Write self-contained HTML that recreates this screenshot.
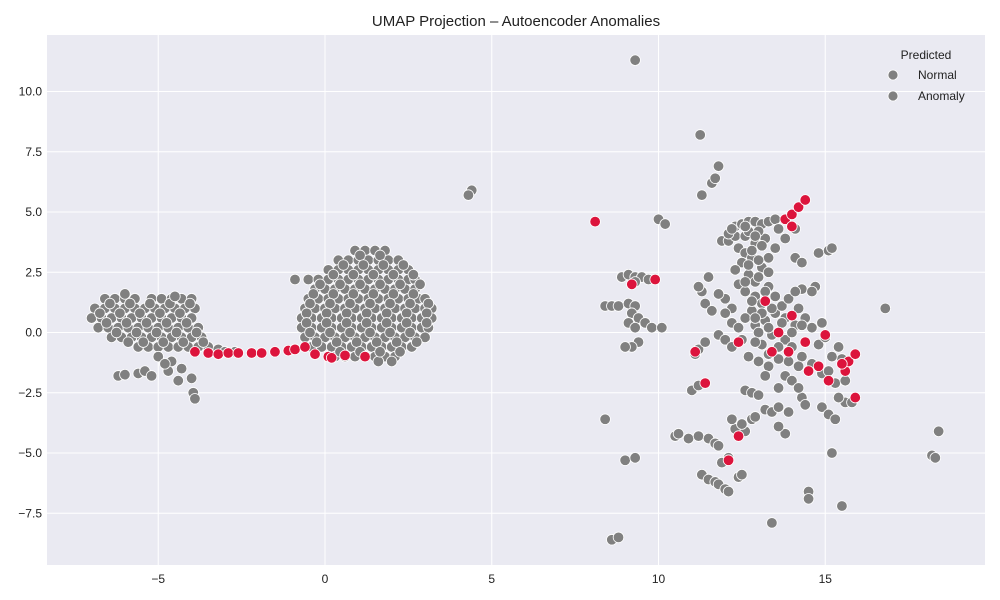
<!DOCTYPE html>
<html><head><meta charset="utf-8"><style>
body{margin:0;background:#fff;}
svg{display:block;font-family:"Liberation Sans",sans-serif;}
</style></head><body>
<svg id="chart" width="1000" height="600">
<rect x="0" y="0" width="1000" height="600" fill="#fff"/>
<text x="516" y="26" text-anchor="middle" font-size="15" fill="#222">UMAP Projection – Autoencoder Anomalies</text>
<rect x="47" y="35" width="938" height="530" fill="#eaeaf2"/>
<g id="grid"></g><g id="ticks"></g><g id="pts"></g>
<g>
<text x="926" y="59" text-anchor="middle" font-size="12" fill="#222">Predicted</text>
<circle cx="893" cy="75" r="5" fill="#808080" stroke="#fff" stroke-width="0.8"/>
<text x="918" y="79" font-size="12" fill="#222">Normal</text>
<circle cx="893" cy="96" r="5" fill="#808080" stroke="#fff" stroke-width="0.8"/>
<text x="918" y="100" font-size="12" fill="#222">Anomaly</text>
</g>
</svg>
<script>
const xTicks=[-5,0,5,10,15];
const yTicks=[-7.5,-5.0,-2.5,0.0,2.5,5.0,7.5,10.0];
const normalPts=[
[-6.6,1.4],[-6.3,1.4],[-6.0,1.4],[-5.7,1.4],[-5.2,1.4],[-4.9,1.4],[-4.6,1.4],[-4.3,1.4],[-4.0,1.4],
[-6.9,1.0],[-6.6,1.0],[-6.3,1.0],[-6.0,1.0],[-5.7,1.0],[-5.4,1.0],[-5.1,1.0],[-4.8,1.0],[-4.5,1.0],[-4.2,1.0],[-3.9,1.0],
[-7.0,0.6],[-6.7,0.6],[-6.4,0.6],[-6.1,0.6],[-5.8,0.6],[-5.5,0.6],[-5.2,0.6],[-4.9,0.6],[-4.6,0.6],[-4.3,0.6],[-4.0,0.6],
[-6.8,0.2],[-6.5,0.2],[-6.2,0.2],[-5.9,0.2],[-5.6,0.2],[-5.3,0.2],[-5.0,0.2],[-4.7,0.2],[-4.4,0.2],[-4.1,0.2],[-3.8,0.2],
[-6.4,-0.2],[-6.1,-0.2],[-5.8,-0.2],[-5.5,-0.2],[-5.2,-0.2],[-4.9,-0.2],[-4.6,-0.2],[-4.3,-0.2],[-4.0,-0.2],[-3.7,-0.2],
[-5.6,-0.6],[-5.3,-0.6],[-5.0,-0.6],[-4.7,-0.6],[-4.4,-0.6],[-4.1,-0.6],[-3.8,-0.6],[-3.5,-0.6],[-3.2,-0.7],
[-6.45,1.2],[-5.85,1.2],[-5.25,1.2],[-4.65,1.2],[-4.05,1.2],[-6.75,0.8],[-6.15,0.8],[-5.55,0.8],[-4.95,0.8],[-4.35,0.8],
[-6.55,0.4],[-5.95,0.4],[-5.35,0.4],[-4.75,0.4],[-4.15,0.4],[-6.25,0.0],[-5.65,0.0],[-5.05,0.0],[-4.45,0.0],[-3.85,0.0],
[-5.45,-0.4],[-4.85,-0.4],[-4.25,-0.4],[-3.65,-0.4],
[-3.0,-0.8],[-2.7,-0.8],
[-5,-1.0],[-4.6,-1.2],[-4.3,-1.5],[-4.7,-1.6],[-4.4,-2.0],[-4.0,-1.9],[-3.95,-2.5],[-3.9,-2.75],[-6.2,-1.8],[-6.0,-1.75],[-5.6,-1.7],[-5.4,-1.6],[-5.2,-1.8],[-4.8,-1.3],[-5.9,-0.4],[-6.0,1.6],[-4.5,1.5],
[0.9,3.4],[1.2,3.4],[1.5,3.4],[1.8,3.4],
[0.4,3.0],[0.7,3.0],[1.0,3.0],[1.3,3.0],[1.6,3.0],[1.9,3.0],[2.2,3.0],
[0.1,2.6],[0.4,2.6],[0.7,2.6],[1.0,2.6],[1.3,2.6],[1.6,2.6],[1.9,2.6],[2.2,2.6],[2.5,2.6],
[-0.9,2.2],[-0.5,2.2],[-0.2,2.2],[0.1,2.2],[0.4,2.2],[0.7,2.2],[1.0,2.2],[1.3,2.2],[1.6,2.2],[1.9,2.2],[2.2,2.2],[2.5,2.2],[2.7,2.2],
[-0.3,1.8],[0,1.8],[0.3,1.8],[0.6,1.8],[0.9,1.8],[1.2,1.8],[1.5,1.8],[1.8,1.8],[2.1,1.8],[2.4,1.8],[2.7,1.8],
[-0.5,1.4],[-0.2,1.4],[0.1,1.4],[0.4,1.4],[0.7,1.4],[1.0,1.4],[1.3,1.4],[1.6,1.4],[1.9,1.4],[2.2,1.4],[2.5,1.4],[2.8,1.4],[3.0,1.4],
[-0.6,1.0],[-0.3,1.0],[0,1.0],[0.3,1.0],[0.6,1.0],[0.9,1.0],[1.2,1.0],[1.5,1.0],[1.8,1.0],[2.1,1.0],[2.4,1.0],[2.7,1.0],[3.0,1.0],[3.2,1.0],
[-0.7,0.6],[-0.4,0.6],[-0.1,0.6],[0.2,0.6],[0.5,0.6],[0.8,0.6],[1.1,0.6],[1.4,0.6],[1.7,0.6],[2.0,0.6],[2.3,0.6],[2.6,0.6],[2.9,0.6],[3.2,0.6],
[-0.7,0.2],[-0.4,0.2],[-0.1,0.2],[0.2,0.2],[0.5,0.2],[0.8,0.2],[1.1,0.2],[1.4,0.2],[1.7,0.2],[2.0,0.2],[2.3,0.2],[2.6,0.2],[2.9,0.2],[3.1,0.2],
[-0.6,-0.2],[-0.3,-0.2],[0,-0.2],[0.3,-0.2],[0.6,-0.2],[0.9,-0.2],[1.2,-0.2],[1.5,-0.2],[1.8,-0.2],[2.1,-0.2],[2.4,-0.2],[2.7,-0.2],[3.0,-0.2],
[-0.4,-0.6],[-0.1,-0.6],[0.2,-0.6],[0.5,-0.6],[0.8,-0.6],[1.1,-0.6],[1.4,-0.6],[1.7,-0.6],[2.0,-0.6],[2.3,-0.6],[2.6,-0.6],
[0.3,-1.0],[0.6,-1.0],[0.9,-1.0],[1.5,-1.0],[1.8,-1.0],[2.1,-1.0],[1.6,-1.2],[2.0,-1.2],
[1.05,3.2],[1.65,3.2],[0.55,2.8],[1.15,2.8],[1.75,2.8],[2.35,2.8],[0.25,2.4],[0.85,2.4],[1.45,2.4],[2.05,2.4],[2.65,2.4],
[-0.15,2.0],[0.45,2.0],[1.05,2.0],[1.65,2.0],[2.25,2.0],[2.85,2.0],[-0.35,1.6],[0.25,1.6],[0.85,1.6],[1.45,1.6],[2.05,1.6],[2.65,1.6],
[-0.45,1.2],[0.15,1.2],[0.75,1.2],[1.35,1.2],[1.95,1.2],[2.55,1.2],[3.1,1.2],[-0.55,0.8],[0.05,0.8],[0.65,0.8],[1.25,0.8],[1.85,0.8],[2.45,0.8],[3.05,0.8],
[-0.55,0.4],[0.05,0.4],[0.65,0.4],[1.25,0.4],[1.85,0.4],[2.45,0.4],[3.05,0.4],[-0.45,0.0],[0.15,0.0],[0.75,0.0],[1.35,0.0],[1.95,0.0],[2.55,0.0],
[-0.25,-0.4],[0.35,-0.4],[0.95,-0.4],[1.55,-0.4],[2.15,-0.4],[2.75,-0.4],[0.45,-0.8],[1.05,-0.8],[1.65,-0.8],[2.25,-0.8],
[9.3,11.3],[11.25,8.2],[11.8,6.9],[11.6,6.2],[11.7,6.4],[11.3,5.7],[10.0,4.7],[10.2,4.5],[4.4,5.9],[4.3,5.7],[8.4,1.1],[8.6,1.1],[8.8,1.1],[9.1,1.2],[9.3,1.1],[8.9,2.3],[9.1,2.4],[9.3,2.3],[9.5,2.3],[9.7,2.2],[9.3,2.1],[9.2,0.8],[9.4,0.6],[9.6,0.4],[9.1,0.4],[9.3,0.2],[9.8,0.2],[10.1,0.2],[9.4,-0.4],[9.2,-0.6],[9.0,-0.6],[11.1,-0.9],[11.2,-0.7],[11.4,-0.4],[11.0,-2.4],[11.2,-2.2],[10.5,-4.3],[10.6,-4.2],[10.9,-4.4],[11.2,-4.3],[11.5,-4.4],[11.7,-4.6],[11.8,-4.7],[12.1,-5.2],[11.9,-5.4],[11.3,-5.9],[11.5,-6.1],[11.7,-6.2],[11.8,-6.3],[12.0,-6.5],[12.1,-6.6],[12.4,-6.0],[12.5,-5.9],[12.3,-4.0],[12.6,-4.1],[12.8,-3.6],[12.9,-3.5],[13.2,-3.2],[13.4,-3.3],[13.6,-3.1],[13.9,-3.3],[13.8,-4.2],[13.6,-3.9],[14.3,-2.7],[14.4,-3.0],[14.9,-3.1],[15.1,-3.4],[15.3,-3.6],[15.6,-2.9],[15.8,-2.9],[15.4,-2.7],[14.5,-6.6],[14.5,-6.9],[15.5,-7.2],[15.2,-5.0],[13.4,-7.9],[8.6,-8.6],[8.8,-8.5],[8.4,-3.6],[9.0,-5.3],[9.3,-5.2],[18.2,-5.1],[18.4,-4.1],[18.3,-5.2],[16.8,1.0],[14.8,3.3],[15.1,3.4],[15.2,3.5],[14.1,3.1],[14.3,2.9],[14.1,4.3],[13.8,3.9],[14.7,1.9],[14.3,1.8],[14.6,1.7],[11.3,1.7],[11.2,1.9],[11.5,2.3],[11.4,1.2],[11.6,0.9],[12.0,1.4],[11.8,1.6],[12.2,1.0],[12.6,-2.4],[12.8,-2.5],[13.0,-2.6],[13.6,-2.3],[13.8,-1.8],[13.3,-1.4],[13.0,-1.2],[12.7,-1.0],[12.5,-0.3],[13.1,-0.5],[13.4,-0.1],[13.8,-0.3],[14.0,-0.6],[14.3,-1.0],[14.6,-1.3],[14.9,-1.7],[15.1,-1.6],[15.3,-2.1],[15.6,-2.0],[15.5,-1.1],[15.2,-1.0],[15.4,-0.6],[14.8,-0.5],[15.0,-0.2],[11.8,-0.1],[12.0,-0.3],[12.2,0.4],[11.9,3.8],[12.1,3.8],[12.3,4.0],[12.1,4.1],[12.3,4.4],[12.5,4.5],[12.7,4.6],[12.9,4.6],[13.1,4.5],[13.3,4.6],[13.5,4.7],[12.4,3.5],[12.6,3.3],[12.8,3.1],[12.5,2.9],[12.3,2.6],[12.7,2.4],[12.9,2.1],[12.4,2.0],[12.6,1.7],[12.9,1.5],[13.1,1.2],[12.8,0.9],[12.6,0.6],[12.4,0.2],[12.9,0.3],[13.2,0.5],[13.5,0.8],[13.7,1.1],[13.9,1.4],[14.1,1.7],[13.3,1.9],[13.1,2.7],[13.3,3.1],[13.5,3.5],[13.2,3.9],[13.0,4.2],[13.6,4.3],[12.6,4.0],[12.9,3.7],[13.8,0.6],[14.1,0.3],[14.4,0.6],[14.6,0.2],[14.9,0.4],[13.6,-0.6],[13.3,-0.9],[12.2,-3.6],[12.5,-3.8],[14.0,-2.0],[14.2,-2.3],[13.0,0.0],[12.0,0.8],
[12.7,4.2],[12.9,4.0],[13.1,3.6],[12.8,3.4],[13.0,3.0],[12.7,2.8],[13.3,2.5],[13.0,2.3],[12.6,2.1],[13.2,1.7],[13.5,1.5],[12.8,1.3],[13.4,1.0],[13.1,0.8],[12.9,0.6],[13.7,0.4],[13.3,0.2],[14.2,1.0],[14.0,0.0],[14.3,0.3],[13.9,-1.2],[14.2,-1.4],[13.6,-1.1],[12.9,-0.4],[12.2,-0.6],[13.2,-1.8],[12.6,4.4],[12.2,4.3]
];
const anomalyPts=[
[-3.9,-0.8],[-3.5,-0.85],[-3.2,-0.9],[-2.9,-0.85],[-2.6,-0.85],[-2.2,-0.85],[-1.9,-0.85],[-1.5,-0.8],[-1.1,-0.75],[-0.9,-0.7],[-0.6,-0.6],[-0.3,-0.9],[0.1,-1.0],[0.2,-1.05],[0.6,-0.95],[1.2,-1.0],
[8.1,4.6],[9.2,2.0],[9.9,2.2],[13.8,4.7],[14.0,4.9],[14.2,5.2],[14.4,5.5],[14.0,4.4],[11.1,-0.8],[11.4,-2.1],[12.4,-4.3],[12.1,-5.3],[12.4,-0.4],[13.4,-0.8],[13.6,0.0],[13.9,-0.8],[14.5,-1.6],[14.8,-1.4],[15.1,-2.0],[15.6,-1.6],[15.7,-1.2],[15.9,-0.9],[15.5,-1.3],[15.9,-2.7],[15.0,-0.1],[14.4,-0.4],[13.2,1.3],[14.0,0.7]
];
const NS='http://www.w3.org/2000/svg';
const X0=47,X1=985,Y0=35,Y1=565;
function sx(v){return 325+v*33.35;}
function sy(v){return 332.5-v*24.1;}
const grid=document.getElementById('grid'),ticks=document.getElementById('ticks'),pts=document.getElementById('pts');
xTicks.forEach(t=>{
 const l=document.createElementNS(NS,'line');
 l.setAttribute('x1',sx(t));l.setAttribute('x2',sx(t));l.setAttribute('y1',Y0);l.setAttribute('y2',Y1);
 l.setAttribute('stroke','#fff');l.setAttribute('stroke-width','1');
 
 
 grid.appendChild(l);
 const tx=document.createElementNS(NS,'text');
 tx.setAttribute('x',sx(t));tx.setAttribute('y',583);tx.setAttribute('text-anchor','middle');
 tx.setAttribute('font-size','12');tx.setAttribute('fill','#222');
 tx.textContent=t<0?'\u2212'+Math.abs(t):String(t);
 
 
 ticks.appendChild(tx);
});
yTicks.forEach(t=>{
 const l=document.createElementNS(NS,'line');
 l.setAttribute('x1',X0);l.setAttribute('x2',X1);l.setAttribute('y1',sy(t));l.setAttribute('y2',sy(t));
 l.setAttribute('stroke','#fff');l.setAttribute('stroke-width','1');
 
 
 grid.appendChild(l);
 const tx=document.createElementNS(NS,'text');
 tx.setAttribute('x',42);tx.setAttribute('y',sy(t)+4);tx.setAttribute('text-anchor','end');
 tx.setAttribute('font-size','12');tx.setAttribute('fill','#222');
 tx.textContent=(t<0?'\u2212':'')+Math.abs(t).toFixed(1);
 
 
 ticks.appendChild(tx);
});
function draw(arr,color,name){
 arr.forEach(p=>{
  const c=document.createElementNS(NS,'circle');
  c.setAttribute('cx',sx(p[0]));c.setAttribute('cy',sy(p[1]));c.setAttribute('r',5.3);
  c.setAttribute('fill',color);c.setAttribute('stroke','#fff');c.setAttribute('stroke-width','0.8');
  
  
  pts.appendChild(c);
 });
}
draw(normalPts,'#808080','normal-point');
draw(anomalyPts,'#dc143c','anomaly-point');
</script>
</body></html>
